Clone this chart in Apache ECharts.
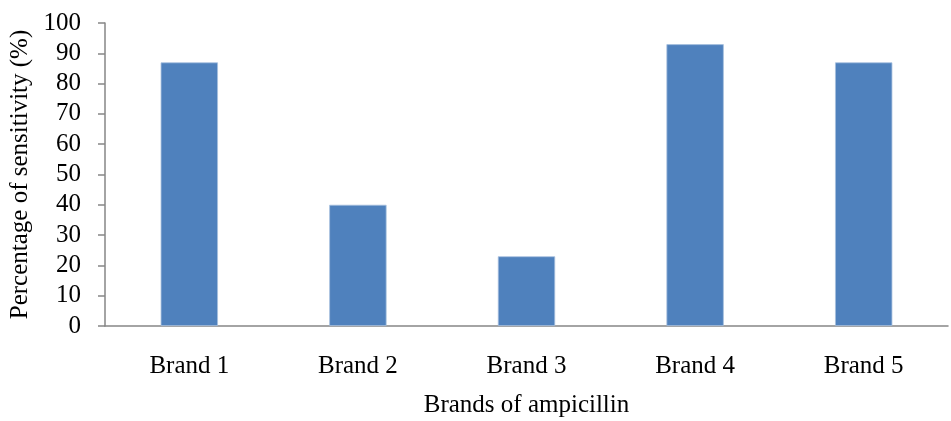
<!DOCTYPE html>
<html>
<head>
<meta charset="utf-8">
<script src="https://cdn.jsdelivr.net/npm/echarts@6/dist/echarts.min.js"></script>
<style>
  html, body { margin: 0; padding: 0; background: #fff; }
  #main { width: 951px; height: 421px; }
</style>
</head>
<body>
<div id="main"></div>
<script>
  // chart data
  var brands = ['Brand 1', 'Brand 2', 'Brand 3', 'Brand 4', 'Brand 5'];
  var sensitivity = [87, 40, 23, 93, 87];

  var font = '"Liberation Serif", "Times New Roman", serif';
  var chart = echarts.init(document.getElementById('main'));

  chart.setOption({
    animation: false,
    grid: {
      left: 105,
      right: 3,
      top: 23,
      bottom: 95,
      outerBoundsMode: 'none'
    },
    xAxis: {
      type: 'category',
      data: brands,
      name: 'Brands of ampicillin',
      nameLocation: 'middle',
      nameGap: 67,
      nameTextStyle: { fontFamily: font, fontSize: 25, color: '#000' },
      axisLine: { lineStyle: { color: '#868686', width: 1.5 } },
      axisTick: { show: false },
      axisLabel: {
        margin: 28,
        fontFamily: font,
        fontSize: 25,
        color: '#000'
      }
    },
    yAxis: {
      type: 'value',
      min: 0,
      max: 100,
      interval: 10,
      name: 'Percentage of sensitivity (%)',
      nameLocation: 'middle',
      nameGap: 70,
      nameTextStyle: { fontFamily: font, fontSize: 25, color: '#000' },
      axisLine: { show: true, lineStyle: { color: '#868686', width: 1.5 } },
      axisTick: { show: true, length: 7, lineStyle: { color: '#868686', width: 1.5 } },
      splitLine: { show: false },
      axisLabel: {
        margin: 24,
        fontFamily: font,
        fontSize: 25,
        color: '#000'
      }
    },
    series: [{
      type: 'bar',
      data: sensitivity,
      barWidth: '34%',
      itemStyle: {
        color: '#4F81BD',
        borderColor: '#A7C0DE',
        borderWidth: 0.8
      }
    }]
  });
</script>
</body>
</html>
